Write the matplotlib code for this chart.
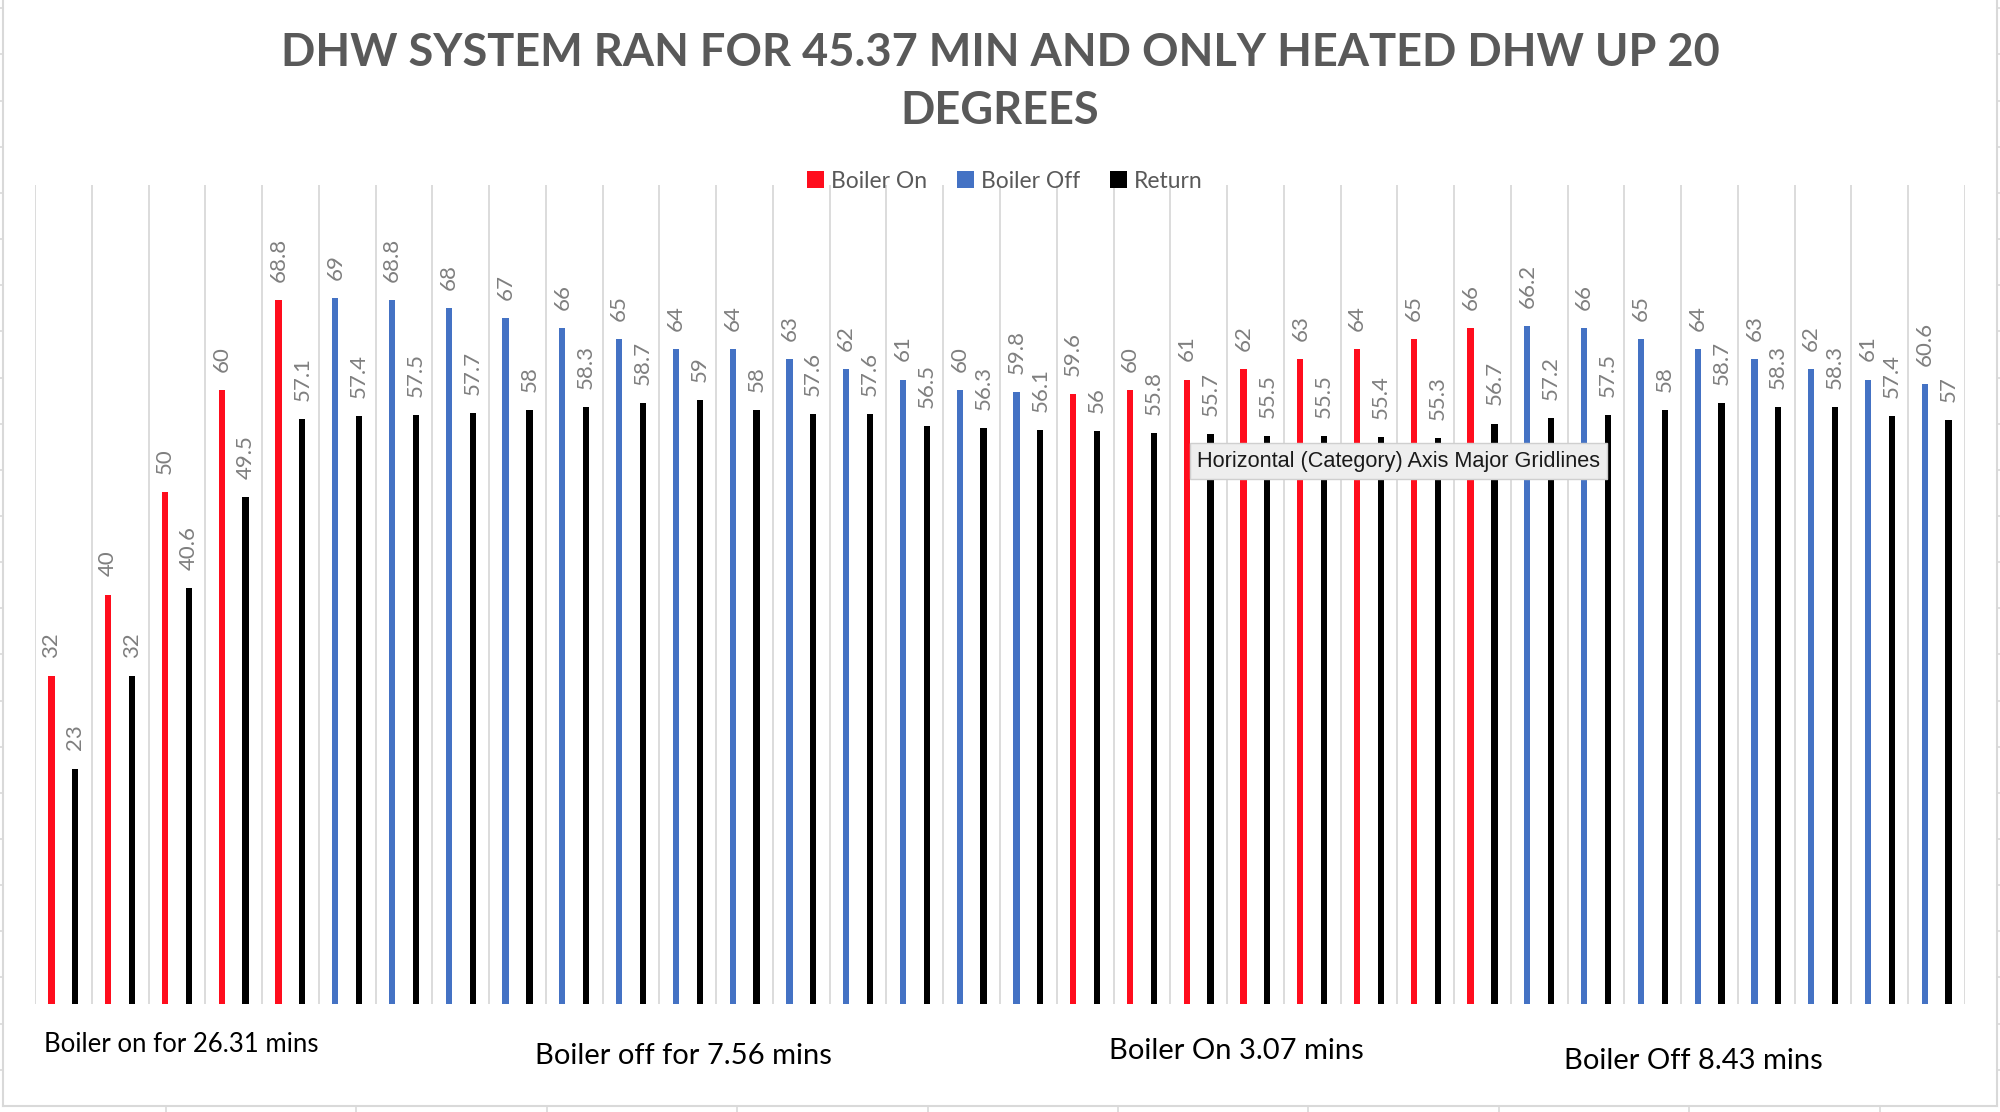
import numpy as np
import matplotlib
matplotlib.use("Agg")
import matplotlib.pyplot as plt
from matplotlib.lines import Line2D
from matplotlib.patches import Patch

# ---------------- data ----------------
boiler_on = [32, 40, 50, 60, 68.8,
             None, None, None, None, None, None, None, None, None, None, None, None, None,
             59.6, 60, 61, 62, 63, 64, 65, 66,
             None, None, None, None, None, None, None, None]
boiler_off = [None, None, None, None, None,
              69, 68.8, 68, 67, 66, 65, 64, 64, 63, 62, 61, 60, 59.8,
              None, None, None, None, None, None, None, None,
              66.2, 66, 65, 64, 63, 62, 61, 60.6]
return_temp = [23, 32, 40.6, 49.5, 57.1,
               57.4, 57.5, 57.7, 58, 58.3, 58.7, 59, 58, 57.6, 57.6, 56.5, 56.3, 56.1,
               56, 55.8, 55.7, 55.5, 55.5, 55.4, 55.3, 56.7,
               57.2, 57.5, 58, 58.7, 58.3, 58.3, 57.4, 57]
series_names = ["Boiler On", "Boiler Off", "Return"]
title_text = "DHW SYSTEM RAN FOR 45.37 MIN AND ONLY HEATED DHW UP 20\nDEGREES"
phase_labels = ["Boiler on for 26.31 mins", "Boiler off for 7.56 mins",
                "Boiler On 3.07 mins", "Boiler Off 8.43 mins"]
tooltip_text = "Horizontal (Category) Axis Major Gridlines"

# ---------------- style ----------------
RED = "#FF0D1D"
BLUE = "#4472C4"
BLACK = "#000000"
LABEL_GRAY = "#7F7F7F"
TEXT_GRAY = "#595959"
GRID = "#D9D9D9"
FONT = ["Lato", "DejaVu Sans"]

W, H = 2000, 1112
fig = plt.figure(figsize=(W / 100, H / 100), dpi=100)
fig.patch.set_facecolor("white")

def fx(px):
    return px / W

def fy(py):
    return 1 - py / H

ax = fig.add_axes([fx(35), fy(1004), fx(1965) - fx(35), fy(185) - fy(1004)])

n = len(return_temp)
x = np.arange(n)
to_arr = lambda v: np.array([np.nan if a is None else a for a in v], dtype=float)
on = to_arr(boiler_on)
off = to_arr(boiler_off)
ret = to_arr(return_temp)

bw = 0.11
off1 = 0.21
containers = [
    ax.bar(x - off1, on, width=bw, color=RED, zorder=3),
    ax.bar(x - off1, off, width=bw, color=BLUE, zorder=3),
    ax.bar(x + off1, ret, width=bw, color=BLACK, zorder=3),
]
for c, vals in zip(containers, [on, off, ret]):
    labels = ["" if np.isnan(v) else f"{v:g}" for v in vals]
    ax.bar_label(c, labels=labels, rotation=90, padding=13, color=LABEL_GRAY,
                 fontsize=16, family=FONT)

ax.set_xlim(-0.5, n - 0.5)
ax.set_ylim(0, 80)
ax.set_xticks(np.arange(-0.5, n, 1.0))
ax.set_xticklabels([])
ax.tick_params(axis="both", length=0)
ax.set_yticks([])
ax.grid(axis="x", color=GRID, linewidth=1.3, zorder=0)
for s in ax.spines.values():
    s.set_visible(False)

# title
fig.text(0.5, fy(82), title_text, ha="center", va="center", fontsize=32.5,
         fontweight="bold", color=TEXT_GRAY, family=FONT, linespacing=1.45)

# legend
handles = [Patch(facecolor=col, edgecolor="none") for col in (RED, BLUE, BLACK)]
fig.legend(handles, series_names, loc="center", bbox_to_anchor=(fx(1005), fy(181)),
           ncol=3, frameon=False, prop={"family": FONT, "size": 16.5},
           labelcolor=TEXT_GRAY, handlelength=0.75, handleheight=0.75,
           handletextpad=0.3, columnspacing=1.3)

# phase annotations
phase_pos = [(181, 1045), (683, 1056), (1236, 1051), (1693, 1061)]
phase_size = [18.5, 21, 21, 21]
for txt, (px, py), fs in zip(phase_labels, phase_pos, phase_size):
    fig.text(fx(px), fy(py), txt, ha="center", va="center", fontsize=fs,
             color="black", family=FONT)

# tooltip
fig.text(fx(1197), fy(461), tooltip_text, ha="left", va="center", fontsize=15.6,
         color="#1a1a1a", family=["Liberation Sans", "DejaVu Sans"],
         bbox=dict(boxstyle="square,pad=0.33", facecolor="#EEEEEE",
                   edgecolor="#CFCFCF", linewidth=1.0), zorder=10)

# chart area frame and sheet grid ticks
frame_col = "#D9D9D9"
fig.add_artist(Line2D([fx(3), fx(3)], [fy(0), fy(1106)], color=frame_col, lw=1.5))
fig.add_artist(Line2D([fx(1997), fx(1997)], [fy(0), fy(1106)], color=frame_col, lw=1.5))
fig.add_artist(Line2D([fx(3), fx(1997)], [fy(1106), fy(1106)], color=frame_col, lw=1.5))
for k in range(25):
    yy = 8.3 + 46.15 * k
    if yy < 1106:
        fig.add_artist(Line2D([fx(0), fx(3)], [fy(yy), fy(yy)], color=frame_col, lw=1.2))
        fig.add_artist(Line2D([fx(1997), fx(2000)], [fy(yy), fy(yy)], color=frame_col, lw=1.2))
for k in range(10):
    xx = 166 + 190.4 * k
    fig.add_artist(Line2D([fx(xx), fx(xx)], [fy(1106), fy(1112)], color=frame_col, lw=1.2))

fig.savefig("out.png", dpi=100, facecolor="white")
